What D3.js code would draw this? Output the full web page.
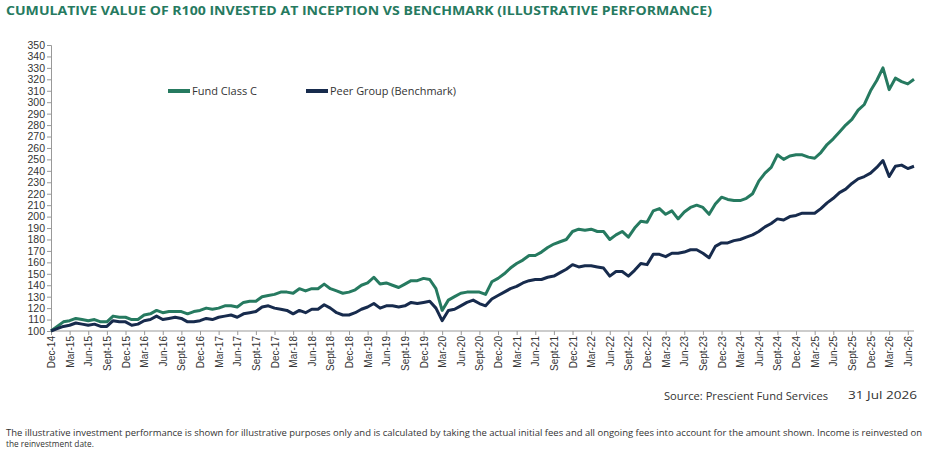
<!DOCTYPE html>
<html>
<head>
<meta charset="utf-8">
<script src="https://cdnjs.cloudflare.com/ajax/libs/d3/7.8.5/d3.min.js"></script>
<style>
  body { margin: 0; background: #fff; font-family: "Open Sans", Lato, sans-serif; }
  svg text { fill: #333; }
</style>
</head>
<body>
<svg id="chart" width="932" height="456"></svg>
<script>
"use strict";

// monthly values Dec-14 .. Jul-26
var fundC = [100,
  104,108,109,111,110,109,110,108,108,113,112,112,
  110,110,114,115,118,116,117,117,117,115,117,118,
  120,119,120,122,122,121,125,126,126,130,131,132,
  134,134,133,137,135,137,137,141,137,135,133,134,
  136,140,142,147,141,142,140,138,141,144,144,146,
  145,137,118,127,130,133,134,134,134,132,143,146,
  150,155,159,162,166,166,169,173,176,178,180,187,
  189,188,189,187,187,180,184,187,182,190,196,195,
  205,207,202,205,198,204,208,210,208,202,211,217,
  215,214,214,216,220,231,238,243,254,250,253,254,
  254,252,251,256,263,268,274,280,285,293,298,310,
  319,330,311,321,318,316,320];

var peerGroup = [100,
  102,104,105,107,106,105,106,104,104,109,108,108,
  105,106,109,110,113,110,111,112,111,108,108,109,
  111,110,112,113,114,112,115,116,117,121,122,120,
  119,118,115,118,116,119,119,123,120,116,114,114,
  116,119,121,124,120,122,122,121,122,125,124,125,
  126,120,109,118,119,122,125,127,124,122,128,131,
  134,137,139,142,144,145,145,147,148,151,154,158,
  156,157,157,156,155,148,152,152,148,153,159,158,
  167,167,165,168,168,169,171,171,168,164,174,177,
  177,179,180,182,184,187,191,194,198,197,200,201,
  203,203,203,207,212,216,221,224,229,233,235,238,
  243,249,235,244,245,242,244];

var monthNames = ["Jan","Feb","Mar","Apr","May","Jun","Jul","Aug","Sept","Oct","Nov","Dec"];
var yTicks = d3.range(100, 351, 10);
var series = [
  { name: "Fund Class C", values: fundC, color: "#267a60" },
  { name: "Peer Group (Benchmark)", values: peerGroup, color: "#172b4d" }
];

function monthLabel(i) {
  var m = (11 + i) % 12;
  var y = 14 + Math.floor((11 + i) / 12);
  return monthNames[m] + "-" + y;
}

var svg = d3.select("#chart");
var x = d3.scaleLinear().domain([0, fundC.length - 1]).range([51, 914]);
var y = d3.scaleLinear().domain([100, 350]).range([331, 45]);

svg.append("text").attr("x", 6).attr("y", 15)
  .style("font-size", "12.5px").style("font-weight", "bold")
  .style("fill", "#267a60")
  .attr("textLength", 706).attr("lengthAdjust", "spacingAndGlyphs")
  .text("CUMULATIVE VALUE OF R100 INVESTED AT INCEPTION VS BENCHMARK (ILLUSTRATIVE PERFORMANCE)");

var yAxis = svg.append("g").attr("transform", "translate(51,0)")
  .call(d3.axisLeft(y).tickValues(yTicks).tickSize(4).tickPadding(2));
yAxis.selectAll("text").style("font-size", "10.5px").style("fill", "#333");
yAxis.selectAll("line, path").attr("stroke", "#999");

var xTicks = d3.range(0, fundC.length, 3);
var xAxis = svg.append("g").attr("transform", "translate(0,331)")
  .call(d3.axisBottom(x).tickValues(xTicks).tickFormat(monthLabel).tickSize(4));
xAxis.select(".domain").attr("stroke", "#999").attr("d", "M51,0H914");
xAxis.selectAll("line").attr("stroke", "#999");
xAxis.selectAll("text")
  .style("font-size", "10px").style("fill", "#333")
  .attr("text-anchor", "end")
  .attr("transform", "rotate(-90)")
  .attr("x", -5).attr("y", 0).attr("dy", "0.35em");

var line = d3.line().x(function (d, i) { return x(i); }).y(function (d) { return y(d); });
series.forEach(function (s) {
  svg.append("path").datum(s.values)
    .attr("d", line).attr("fill", "none")
    .attr("stroke", s.color).attr("stroke-width", 3)
    .attr("stroke-linejoin", "round");
});

var legendX = [168, 306];
var legendW = [65, 126];
series.forEach(function (s, i) {
  svg.append("line").attr("x1", legendX[i]).attr("x2", legendX[i] + 22)
    .attr("y1", 91).attr("y2", 91)
    .attr("stroke", s.color).attr("stroke-width", 4);
  svg.append("text").attr("x", legendX[i] + 24).attr("y", 95)
    .style("font-size", "10.5px")
    .attr("textLength", legendW[i]).attr("lengthAdjust", "spacingAndGlyphs")
    .text(s.name);
});

svg.append("text").attr("x", 664).attr("y", 400).style("font-size", "10.5px")
  .attr("textLength", 164).attr("lengthAdjust", "spacingAndGlyphs")
  .text("Source: Prescient Fund Services");
svg.append("text").attr("x", 848).attr("y", 399).style("font-size", "10.5px")
  .attr("textLength", 69).attr("lengthAdjust", "spacingAndGlyphs")
  .text("31 Jul 2026");

svg.append("text").attr("x", 6).attr("y", 436).style("font-size", "8.3px")
  .attr("textLength", 916).attr("lengthAdjust", "spacingAndGlyphs")
  .text("The illustrative investment performance is shown for illustrative purposes only and is calculated by taking the actual initial fees and all ongoing fees into account for the amount shown. Income is reinvested on");
svg.append("text").attr("x", 6).attr("y", 447).style("font-size", "8.3px")
  .text("the reinvestment date.");
</script>
</body>
</html>
